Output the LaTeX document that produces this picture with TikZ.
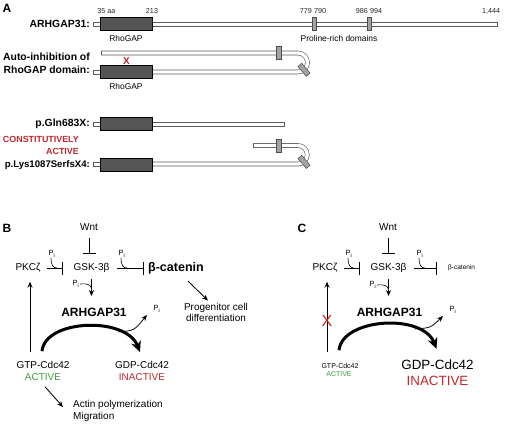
\documentclass[tikz,border=0pt]{standalone}
\usepackage{fontspec}
\setmainfont{Liberation Sans}
\usetikzlibrary{arrows.meta,calc}
\definecolor{myred}{HTML}{C1272D}
\definecolor{mygreen}{HTML}{3F9B3F}
\definecolor{boxdark}{HTML}{555555}
\definecolor{boxgray}{HTML}{A3A3A3}
\definecolor{barline}{HTML}{5A5A5A}
\begin{document}
\begin{tikzpicture}[x=1pt,y=-1pt,
  lbl/.style={inner sep=1pt, font=\fontsize{10}{12}\selectfont},
  lbls/.style={inner sep=1pt, font=\fontsize{8.4}{10}\selectfont},
  blbl/.style={inner sep=1pt, font=\bfseries\fontsize{10.4}{12.5}\selectfont},
  num/.style={inner sep=0.5pt, font=\fontsize{7.2}{8}\selectfont, text=black!85},
  pilbl/.style={inner sep=0.5pt, font=\fontsize{7.5}{8}\selectfont},
  arr/.style={line width=0.85pt, -{Stealth[length=6pt,width=5pt]}},
  thinarr/.style={line width=0.75pt, -{Stealth[length=6pt,width=5pt]}},
  inh/.style={line width=0.85pt, -{Bar[width=13pt,line width=0.9pt]}},
  hook/.style={line width=0.6pt},
  bigarc/.style={line width=3pt, -{Stealth[length=11pt,width=10pt]}},
  tube/.style={draw=barline, double=white, double distance=3.4pt, line width=0.6pt},
  pbar/.style={draw=barline, fill=white, line width=0.6pt},
  rgap/.style={draw=black, fill=boxdark, line width=0.6pt},
  pro/.style={draw=black!70, fill=boxgray, line width=0.5pt},
  capline/.style={draw=barline, line width=0.6pt}
]
\useasboundingbox (0,0) rectangle (505,424);

% ---------------- Panel A ----------------
\node[inner sep=0pt, font=\bfseries\fontsize{12}{14}\selectfont] (labA) at (7,8) {A};

% row 1
\draw[pbar] (93,22) rectangle (100,26);
\draw[pbar] (152,22) rectangle (497,26);
\draw[rgap] (100,17) rectangle (152,30);
\draw[pro] (312,17) rectangle (316,30);
\draw[pro] (367,17) rectangle (371,30);
\node[num] (n35) at (106.5,11) {35 aa};
\node[num] (n213) at (152,11) {213};
\node[num] (n779) at (313,11) {779\,\,790};
\node[num] (n986) at (369,11) {986\,\,994};
\node[num] (n1444) at (491,11) {1,444};
\node[lbls] (rg1) at (126,38) {RhoGAP};
\node[lbls] (prd) at (339,38) {Proline-rich domains};
\node[blbl, anchor=east] (l1) at (91,24) {ARHGAP31:};

% row 2
\draw[tube] (101,53) -- (298,53) arc[start angle=-90,end angle=90,radius=9.5] -- (152,72);
\draw[capline] (101,51.3) -- (101,54.7);
\draw[pbar] (93,70) rectangle (100,74);
\draw[rgap] (100,65.5) rectangle (152,78.5);
\draw[pro] (276,46.5) rectangle (281,59.5);
\node[pro, minimum width=5pt, minimum height=13pt, inner sep=0pt, rotate=40] (tilt1) at (304,69.8) {};
\node[inner sep=0pt, text=myred, font=\bfseries\fontsize{10}{12}\selectfont] (x1) at (126.5,61) {X};
\node[lbls] (rg2) at (126,86) {RhoGAP};
\node[blbl, anchor=east, align=right] (l2) at (91,63.5) {Auto-inhibition of\\RhoGAP domain:};

% row 3
\draw[pbar] (93,122) rectangle (100,126);
\draw[pbar] (152,122) rectangle (284,126);
\draw[rgap] (100,117.5) rectangle (152,130.5);
\node[blbl, anchor=east] (l3) at (91,124) {p.Gln683X:};

% row 4
\draw[tube] (253,145.5) -- (298,145.5) arc[start angle=-90,end angle=90,radius=9.25] -- (152,164);
\draw[capline] (253,143.8) -- (253,147.2);
\draw[pbar] (93,162) rectangle (100,166);
\draw[rgap] (100,158) rectangle (152,171);
\draw[pro] (276,139) rectangle (281,152);
\node[pro, minimum width=5pt, minimum height=13pt, inner sep=0pt, rotate=40] (tilt2) at (304,161.9) {};
\node[inner sep=1pt, anchor=east, align=right, text=myred, font=\bfseries\fontsize{8.9}{12}\selectfont] (l4) at (80,145) {CONSTITUTIVELY\\ACTIVE};
\node[inner sep=1pt, anchor=east, font=\bfseries\fontsize{9.6}{12}\selectfont] (l5) at (91,165) {p.Lys1087SerfsX4:};

% ---------------- Panel B ----------------
\node[inner sep=0pt, font=\bfseries\fontsize{12}{14}\selectfont] (labB) at (7,228) {B};
\node[lbl] (wntB) at (89,227) {Wnt};
\node[lbl] (pkcB) at (28,268) {PKCζ};
\node[lbl] (gskB) at (91.5,268) {GSK-3β};
\node[inner sep=1pt, anchor=west, font=\bfseries\fontsize{12.5}{14}\selectfont] (catB) at (147,268) {β-catenin};
\node[inner sep=1pt, font=\bfseries\fontsize{12}{14}\selectfont] (arhB) at (94,312) {ARHGAP31};
\node[lbl] (gtpB) at (43,365) {GTP-Cdc42};
\node[lbl, text=mygreen] (actB) at (43,377) {ACTIVE};
\node[lbl] (gdpB) at (142,365) {GDP-Cdc42};
\node[lbl, text=myred] (inaB) at (142,377) {INACTIVE};
\node[inner sep=1pt, align=center, font=\fontsize{10}{11}\selectfont] (progB) at (216,312) {Progenitor cell\\differentiation};
\node[inner sep=1pt, align=left, anchor=west, font=\fontsize{10}{12}\selectfont] (actinB) at (72,411) {Actin polymerization\\Migration};
\node[pilbl] (piB1) at (52,254) {P\textsubscript{i}};
\node[pilbl] (piB2) at (122,254) {P\textsubscript{i}};
\node[pilbl] (piB3) at (76,284) {P\textsubscript{i}};
\node[pilbl] (piB4) at (157,309) {P\textsubscript{i}};

\draw[inh, shorten <=6pt, shorten >=8.3pt] (wntB.south) -- (wntB.south |- gskB.north);
\draw[inh, shorten <=5.4pt, shorten >=9.6pt] (pkcB.east) -- (gskB.west);
\draw[inh, shorten <=6.6pt, shorten >=3pt] (gskB.east) -- (catB.west);
\draw[arr, shorten <=5pt, shorten >=10.5pt] (gskB.south) -- (gskB.south |- arhB.north);
\draw[hook] ($(piB1.south)+(-1,0)$) .. controls +(0,7) and +(-4,0) .. ($(piB1.south |- pkcB.east)+(5,0)$);
\draw[hook] ($(piB2.south)+(-1,0)$) .. controls +(0,7) and +(-4,0) .. ($(piB2.south |- gskB.east)+(5,0)$);
\draw[hook] (piB3.east) .. controls +(7,-1) and +(0,-4) .. ($(gskB.south |- piB3.east)+(0,5)$);
\draw[arr, shorten <=8pt, shorten >=8pt] ($(pkcB.south |- gtpB.north)+(2,0)$) -- ($(pkcB.south)+(2,0)$);
\draw[bigarc] ($(gtpB.north)+(-1,-9)$) .. controls +(3,-32) and +(-14,-36) .. ($(gdpB.north)+(-2,-8)$) coordinate[pos=0.74] (brB);
\draw[thinarr] (brB) .. controls +(16,-1) .. ($(piB4.west)+(-6,6)$);
\draw[arr] ($(catB.south)+(12,6)$) -- ($(progB.north)+(-8,-1)$);
\draw[arr] ($(actB.south)+(2,5)$) -- ($(actinB.west)+(-9,-4)$);

% ---------------- Panel C ----------------
\node[inner sep=0pt, font=\bfseries\fontsize{12}{14}\selectfont] (labC) at (302,228) {C};
\node[lbl] (wntC) at (388,227) {Wnt};
\node[lbl] (pkcC) at (325,268) {PKCζ};
\node[lbl] (gskC) at (388.5,268) {GSK-3β};
\node[inner sep=1pt, anchor=west, font=\fontsize{6.5}{8}\selectfont] (catC) at (447,268) {β-catenin};
\node[inner sep=1pt, font=\bfseries\fontsize{12}{14}\selectfont] (arhC) at (389.5,312) {ARHGAP31};
\node[inner sep=1pt, font=\fontsize{7}{8}\selectfont] (gtpC) at (340,366) {GTP-Cdc42};
\node[inner sep=1pt, text=mygreen, font=\fontsize{7}{8}\selectfont] (actC) at (339,374) {ACTIVE};
\node[inner sep=1pt, font=\fontsize{13.4}{15}\selectfont] (gdpC) at (437.5,365) {GDP-Cdc42};
\node[inner sep=1pt, text=myred, font=\fontsize{13.4}{15}\selectfont] (inaC) at (437.5,381) {INACTIVE};
\node[pilbl] (piC1) at (349,254) {P\textsubscript{i}};
\node[pilbl] (piC2) at (420,254) {P\textsubscript{i}};
\node[pilbl] (piC3) at (373,285) {P\textsubscript{i}};
\node[pilbl] (piC4) at (453,310) {P\textsubscript{i}};

\draw[inh, shorten <=6pt, shorten >=8.3pt] (wntC.south) -- (wntC.south |- gskC.north);
\draw[inh, shorten <=5.4pt, shorten >=9.6pt] (pkcC.east) -- (gskC.west);
\draw[inh, shorten <=6.6pt, shorten >=10pt] (gskC.east) -- (catC.west);
\draw[arr, shorten <=5pt, shorten >=10.5pt] (gskC.south) -- (gskC.south |- arhC.north);
\draw[hook] ($(piC1.south)+(-1,0)$) .. controls +(0,7) and +(-4,0) .. ($(piC1.south |- pkcC.east)+(5,0)$);
\draw[hook] ($(piC2.south)+(-1,0)$) .. controls +(0,7) and +(-4,0) .. ($(piC2.south |- gskC.east)+(5,0)$);
\draw[hook] (piC3.east) .. controls +(7,-1) and +(0,-4) .. ($(gskC.south |- piC3.east)+(0,5)$);
\draw[arr, shorten <=10pt, shorten >=8pt] ($(pkcC.south |- gtpC.north)+(2,0)$) -- ($(pkcC.south)+(2,0)$);
\node[inner sep=0pt, text=myred, font=\fontsize{16}{16}\selectfont] (xC) at (327,321) {X};
\draw[bigarc] ($(gtpC.north)+(-1,-12)$) .. controls +(3,-32) and +(-14,-36) .. ($(gdpC.north)+(-1,-10)$) coordinate[pos=0.74] (brC);
\draw[thinarr] (brC) .. controls +(16,-1) .. ($(piC4.west)+(-6,6)$);
\end{tikzpicture}
\end{document}
